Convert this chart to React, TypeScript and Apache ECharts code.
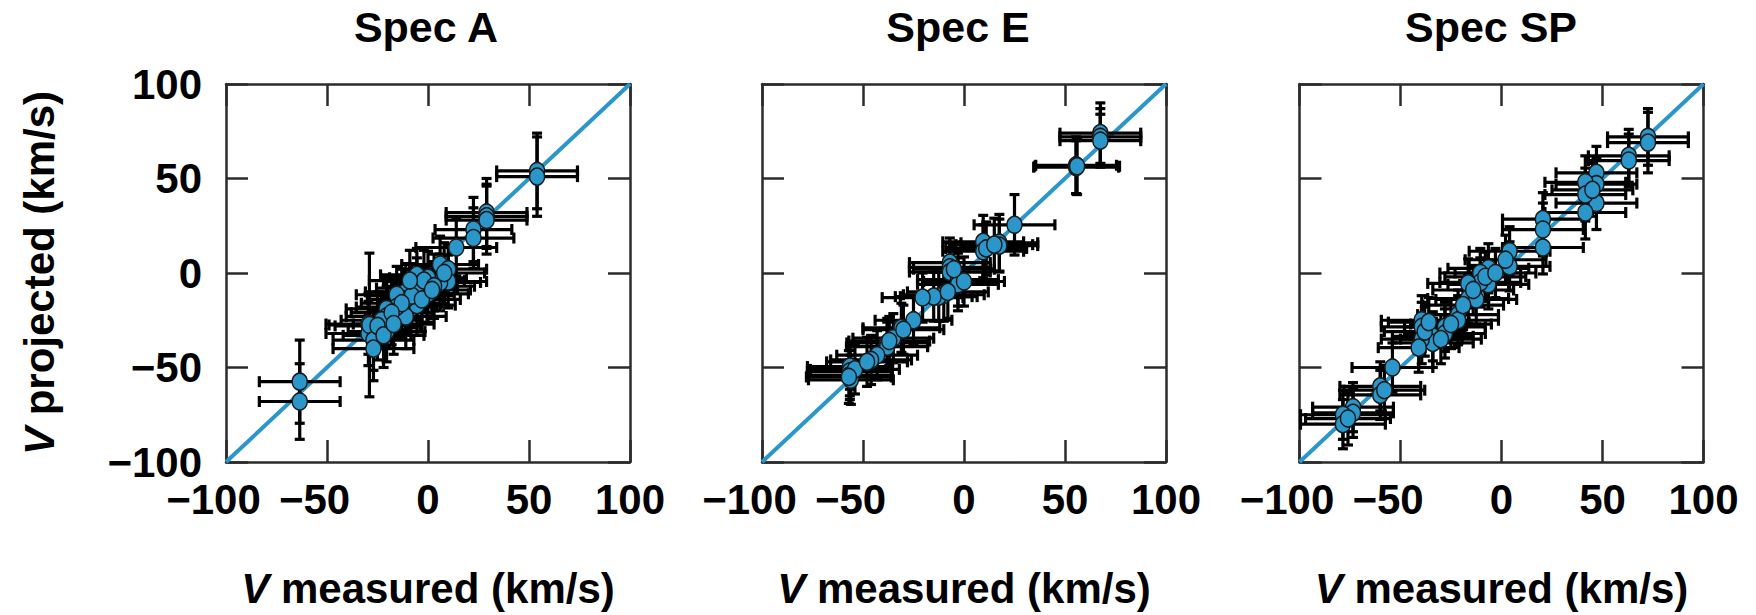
import React, { useEffect, useRef } from 'react';
import * as echarts from 'echarts';

// ---------- data ----------
const panelTitles = ['Spec A', 'Spec E', 'Spec SP'];
const tickValues = [-100, -50, 0, 50, 100];

// Spec A
const specAX = [54, 54, 29, 29, 29, 22.5, 22.5, 14, 6, 10, 10, 6, 0, 0, -5.5, -5.5, -5.5, -11, -11, -11, -15.5, -15.5, -20.5, -20.5, -20.5, -23, -29.5, -29.5, -29, -27, -27, -63.5, -63.5, -2, 3, -8, -13, -18, -25, -22, 8, -3, -17, 2, -9];
const specAY = [54, 51, 32, 30, 28, 23, 18.5, 13.5, 4.5, 2, -4.5, -5, -2.5, -11, -1, -8, -17, -10, -14, -23, -11.5, -18, -19, -23, -31, -25, -27, -32, -27.5, -35.5, -40, -57.5, -68, -4, -7, -12, -16, -21, -28, -33, 0, -14, -27, -9, -4];
const specAXErr = [20, 20, 20, 20, 20, 19, 20, 20, 19, 19, 19, 20, 19, 20, 18, 20, 19, 20, 19, 20, 20, 20, 20, 20, 19, 20, 21, 21, 20, 20, 20, 20, 20, 20, 20, 21, 20, 20, 21, 20, 20, 19, 20, 19, 20];
const specAYErr = [20, 21, 18, 17, 18, 17, 16, 15, 15, 13, 14, 15, 14, 15, 14, 16, 16, 15, 16, 17, 15, 16, 17, 16, 16, 15, 16, 17, 38, 16, 17, 22, 20, 16, 17, 17, 18, 17, 18, 17, 16, 17, 16, 15, 16];

// Spec E
const specEX = [67.5, 67.5, 67.5, 55.5, 55.5, 25, 9.5, 9.5, 17.5, 17.5, -7, -7, -7, -3, -3, 0, -10, -12.5, -15, -20.5, -25, -31, -35, -38, -38, -43, -46, -56.5, -56.5, -56.5, -56, -37, -54, -57, -30, -8, -5, 11, 15, 56, -48];
const specEY = [74, 72, 70, 57, 56, 25.5, 16.5, 11.5, 16, 14.5, 5.5, 3, 0.5, -3.5, -6, -4.5, -11.5, -12.5, -12.5, -13, -25, -29, -34.5, -37, -39, -43.5, -46, -49.5, -52, -54, -56.5, -36, -51, -55, -30, -10, 2, 13, 15, 56.5, -47];
const specEXErr = [20, 20, 20, 20, 21, 20, 20, 20, 19, 19, 20, 20, 20, 20, 20, 20, 20, 19, 19, 20, 19, 19, 20, 20, 20, 20, 20, 21, 21, 21, 21, 20, 22, 21, 20, 20, 20, 20, 19, 21, 20];
const specEYErr = [16, 15, 14, 15, 14, 16, 14, 14, 15, 14, 13, 13, 13, 14, 14, 13, 14, 13, 13, 13, 13, 13, 13, 13, 13, 13, 13, 12, 13, 13, 13, 13, 13, 14, 13, 14, 13, 14, 14, 15, 13];

// Spec SP
const specSPX = [72.5, 72.5, 63, 63, 47, 47, 47, 41.5, 41.5, 41.5, 20.5, 20.5, 20.5, 4, 4, -6.5, -6.5, -10.5, -10.5, -16.5, -16.5, -12.5, -21.5, -21.5, -28, -28, -34, -34, -39.5, -39.5, -39.5, -41, -54, -60, -60, -73.5, -73.5, -78.5, -78.5, -38, -36, -25, -19, -14, -8, -3, 2, -76, -58, 45, -30];
const specSPY = [72, 69, 62, 59.5, 53, 47, 37, 48, 41.5, 32, 28.5, 23, 13.5, 11.5, 3.5, 2.5, -6, 0, -5, -5.5, -13.5, -14, -22, -25, -28.5, -32, -33.5, -37, -25, -28.5, -35, -39.5, -50, -60, -64.5, -71, -74, -75, -80, -31, -26, -27, -17, -9, -2, 0, 7, -77, -62, 44, -35];
const specSPXErr = [20, 20, 20, 20, 20, 20, 20, 20, 20, 20, 20, 20, 20, 20, 20, 20, 20, 20, 20, 20, 20, 20, 20, 20, 20, 20, 20, 20, 20, 20, 20, 20, 20, 20, 20, 20, 20, 21, 21, 20, 20, 20, 20, 20, 20, 20, 20, 21, 20, 20, 20];
const specSPYErr = [15, 16, 14, 14, 14, 14, 14, 14, 14, 14, 14, 14, 14, 13, 13, 13, 13, 13, 13, 13, 13, 13, 13, 13, 13, 13, 13, 13, 13, 13, 13, 13, 13, 13, 13, 13, 13, 13, 13, 13, 13, 13, 13, 13, 13, 13, 13, 14, 13, 14, 13];

const diagonal = [[-100, -100], [100, 100]];

// ---------- style ----------
const FONT = '"Liberation Sans", Arial, Helvetica, sans-serif';
const FS = 42;
const TITLE_FS = 43;
const FRAME = '#2b2b2b';
const BLUE = '#2a96c9';

const gridLefts = [226, 762, 1299.5];
const titleCenters = [426, 958, 1491];

function buildPoints(xs: number[], ys: number[], xe: number[], ye: number[]) {
  return xs.map((x, i) => [x, ys[i], xe[i], ye[i]]);
}

const panels = [
  buildPoints(specAX, specAY, specAXErr, specAYErr),
  buildPoints(specEX, specEY, specEXErr, specEYErr),
  buildPoints(specSPX, specSPY, specSPXErr, specSPYErr),
];

const renderErrorBar = (params: any, api: any) => {
  const x = api.value(0);
  const y = api.value(1);
  const ex = api.value(2);
  const ey = api.value(3);
  const l = api.coord([x - ex, y]);
  const r = api.coord([x + ex, y]);
  const t = api.coord([x, y + ey]);
  const b = api.coord([x, y - ey]);
  const st = { stroke: '#000', lineWidth: 3.2 };
  const hc = 5.5;
  const vc = 5;
  const ln = (x1: number, y1: number, x2: number, y2: number) => ({
    type: 'line',
    shape: { x1, y1, x2, y2 },
    style: st,
  });
  return {
    type: 'group',
    children: [
      ln(l[0], l[1], r[0], r[1]),
      ln(l[0], l[1] - hc, l[0], l[1] + hc),
      ln(r[0], r[1] - hc, r[0], r[1] + hc),
      ln(t[0], t[1], b[0], b[1]),
      ln(t[0] - vc, t[1], t[0] + vc, t[1]),
      ln(b[0] - vc, b[1], b[0] + vc, b[1]),
    ],
  };
};

const labelRich = {
  n: { fontSize: FS, fontWeight: 'bold', fontFamily: FONT, color: '#000' },
  p: { width: 25, fontSize: FS, fontWeight: 'bold', fontFamily: FONT },
};

const xLabelFormatter = (v: number) => (v < 0 ? `{n|\u2212${Math.abs(v)}}{p|}` : `{n|${v}}`);
const yLabelFormatter = (v: number) => (v < 0 ? `\u2212${Math.abs(v)}` : `${v}`);

function buildOption() {
  const grid: any[] = [];
  const xAxis: any[] = [];
  const yAxis: any[] = [];
  const series: any[] = [];
  const axisLine = { show: true, onZero: false, lineStyle: { color: FRAME, width: 2.5 } };
  const axisTick = { show: true, inside: true, length: 22, lineStyle: { color: FRAME, width: 2.5 } };
  const nameStyle = {
    fontSize: FS,
    fontWeight: 'bold',
    fontFamily: FONT,
    color: '#000',
    rich: {
      i: { fontSize: FS, fontWeight: 'bold', fontStyle: 'italic', fontFamily: FONT, color: '#000' },
    },
  };

  panels.forEach((pts, i) => {
    grid.push({ left: gridLefts[i], top: 84, width: 404, height: 378, outerBoundsMode: 'none', containLabel: false });
    const base = {
      type: 'value',
      min: tickValues[0],
      max: tickValues[tickValues.length - 1],
      interval: 50,
      gridIndex: i,
      splitLine: { show: false },
      axisLine,
      axisTick,
    };
    xAxis.push({
      ...base,
      position: 'bottom',
      name: '{i|V} measured (km/s)',
      nameLocation: 'middle',
      nameGap: 105,
      nameTextStyle: nameStyle,
      axisLabel: {
        show: true,
        margin: 16,
        formatter: xLabelFormatter,
        rich: labelRich,
        fontSize: FS,
        fontWeight: 'bold',
        fontFamily: FONT,
        color: '#000',
      },
    });
    xAxis.push({ ...base, position: 'top', axisLabel: { show: false } });
    yAxis.push({
      ...base,
      position: 'left',
      name: i === 0 ? '{i|V} projected (km/s)' : '',
      nameLocation: 'middle',
      nameGap: 166,
      nameTextStyle: nameStyle,
      axisLabel: {
        show: i === 0,
        margin: 24,
        formatter: yLabelFormatter,
        fontSize: FS,
        fontWeight: 'bold',
        fontFamily: FONT,
        color: '#000',
      },
    });
    yAxis.push({ ...base, position: 'right', axisLabel: { show: false } });

    series.push({
      type: 'line',
      xAxisIndex: i * 2,
      yAxisIndex: i * 2,
      data: diagonal,
      symbol: 'none',
      lineStyle: { color: BLUE, width: 4 },
      z: 1,
    });
    series.push({
      type: 'custom',
      xAxisIndex: i * 2,
      yAxisIndex: i * 2,
      data: pts,
      dimensions: ['x', 'y', 'xErr', 'yErr'],
      encode: { x: 0, y: 1 },
      renderItem: renderErrorBar,
      z: 2,
    });
    series.push({
      type: 'scatter',
      xAxisIndex: i * 2,
      yAxisIndex: i * 2,
      data: pts.map((p) => [p[0], p[1]]),
      symbol: 'circle',
      symbolSize: [15, 17],
      itemStyle: { color: BLUE, borderColor: '#1a1a1a', borderWidth: 1.5, opacity: 1 },
      z: 3,
    });
  });

  return {
    animation: false,
    backgroundColor: '#ffffff',
    title: panelTitles.map((t, i) => ({
      text: t,
      left: titleCenters[i],
      top: 5,
      textAlign: 'center',
      padding: 0,
      textStyle: { fontSize: TITLE_FS, fontWeight: 'bold', fontFamily: FONT, color: '#000' },
    })),
    grid,
    xAxis,
    yAxis,
    series,
  };
}

export default function App() {
  const ref = useRef<HTMLDivElement>(null);
  useEffect(() => {
    if (!ref.current) return;
    const chart = echarts.init(ref.current, undefined, { renderer: 'svg' });
    chart.setOption(buildOption() as any);
    return () => chart.dispose();
  }, []);
  return (
    <div
      ref={ref}
      style={{ position: 'fixed', left: 0, top: 0, width: 1756, height: 615, background: '#fff' }}
    />
  );
}
